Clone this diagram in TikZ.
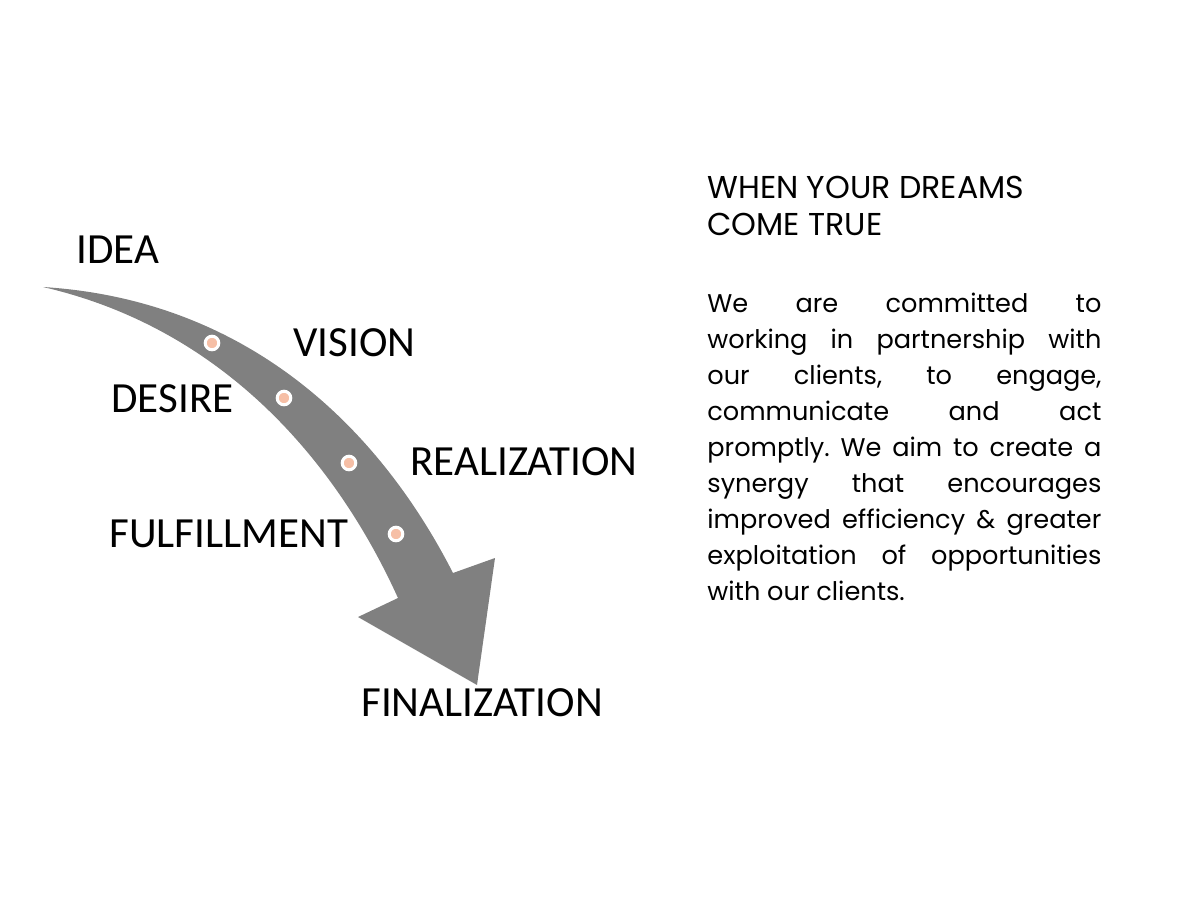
\documentclass[tikz,border=0pt]{standalone}
\usepackage{fontspec}
\setmainfont{Poppins}
\newfontfamily\carlito{Carlito}
\definecolor{arrowgray}{HTML}{808080}
\definecolor{peach}{HTML}{F6BFA6}
\tikzset{
  stage/.style={font=\carlito\fontsize{21.5}{25}\selectfont, inner sep=0pt, anchor=base west},
  stop/.style={circle, fill=peach, draw=white, line width=1.5pt, minimum size=6.8pt, inner sep=0pt},
  blurb/.style={inner sep=0pt, anchor=base west}
}
\begin{document}
\begin{tikzpicture}[x=0.5pt, y=-0.5pt]
  \useasboundingbox (0,0) rectangle (1200,900);
  % curved arrow
  \fill[arrowgray] (43,287) .. controls (250,300) and (380,430) .. (453,573)
    -- (495,558) -- (477,685) -- (358,617) -- (398,598)
    .. controls (340,470) and (230,330) .. (43,287) -- cycle;
  % stops on the arrow
  \node[stop] (s1) at (212,343) {};
  \node[stop] (s2) at (284,398) {};
  \node[stop] (s3) at (349,463) {};
  \node[stop] (s4) at (396,534) {};
  % stage labels
  \node[stage] (idea) at (76,263) {IDEA};
  \node[stage] (vision) at (293,356) {VISION};
  \node[stage] (desire) at (111,412) {DESIRE};
  \node[stage] (realization) at (410,475) {REALIZATION};
  \node[stage] (fulfillment) at (109,547) {FULFILLMENT};
  \node[stage] (finalization) at (361,716) {FINALIZATION};
  % text on the right
  \node[blurb] (title) at (707,198) {\begin{minipage}[t]{200pt}
    \fontsize{15.8}{18.75}\selectfont WHEN YOUR DREAMS\\COME TRUE\end{minipage}};
  \node[blurb] (body) at (707,312) {\begin{minipage}[t]{197pt}
    \fontsize{12.8}{18}\selectfont\parindent=0pt\hyphenpenalty=10000\frenchspacing
    We are committed to\linebreak working in partnership with\linebreak
    our clients, to engage,\linebreak communicate and act\linebreak
    promptly. We aim to create a\linebreak synergy that encourages\linebreak
    improved efficiency \& greater\linebreak exploitation of opportunities\linebreak
    with our clients.\end{minipage}};
\end{tikzpicture}
\end{document}
